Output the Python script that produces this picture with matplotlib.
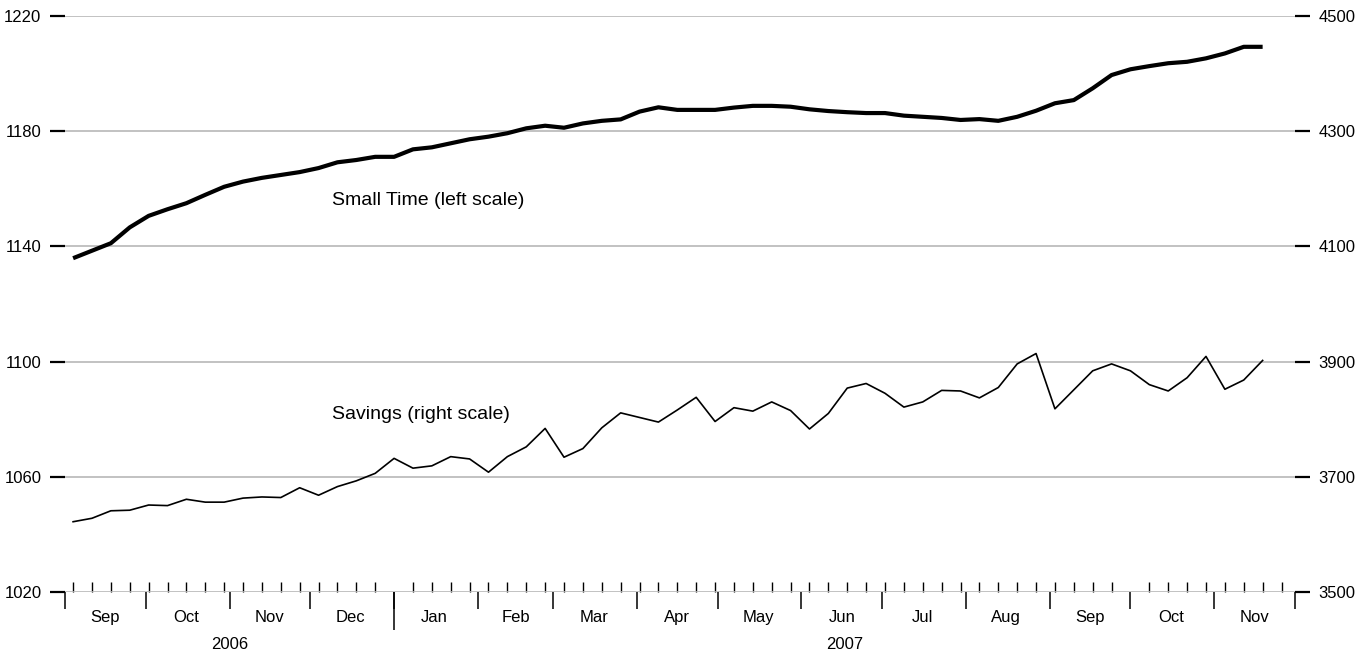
import datetime as dt
import matplotlib
matplotlib.use("Agg")
import matplotlib.pyplot as plt
import matplotlib.dates as mdates

plt.rcParams["font.family"] = ["Liberation Sans", "DejaVu Sans"]

# weekly readings, taken on Mondays from 4 Sep 2006
first_week = dt.date(2006, 9, 4)
weeks = [first_week + dt.timedelta(weeks=i) for i in range(64)]

# left scale
small_time = [1135.9, 1138.5, 1141.1, 1146.6, 1150.6, 1152.9, 1155.0, 1157.9, 1160.7, 1162.5,
              1163.8, 1164.8, 1165.8, 1167.2, 1169.2, 1170.0, 1171.1, 1171.1, 1173.7, 1174.4,
              1175.8, 1177.2, 1178.1, 1179.3, 1181.0, 1181.9, 1181.2, 1182.7, 1183.6, 1184.1,
              1186.8, 1188.3, 1187.4, 1187.4, 1187.4, 1188.2, 1188.8, 1188.8, 1188.5, 1187.6,
              1187.0, 1186.6, 1186.3, 1186.3, 1185.4, 1185.0, 1184.6, 1183.9, 1184.2, 1183.6,
              1185.0, 1187.1, 1189.7, 1190.8, 1194.9, 1199.5, 1201.5, 1202.6, 1203.6, 1204.1,
              1205.3, 1207.0, 1209.3, 1209.3]

# right scale
savings = [3622, 3628, 3641, 3642, 3651, 3650, 3661, 3656, 3656, 3663,
           3665, 3664, 3681, 3668, 3683, 3693, 3706, 3732, 3715, 3719,
           3735, 3731, 3708, 3735, 3752, 3784, 3734, 3749, 3785, 3811,
           3803, 3795, 3816, 3838, 3796, 3820, 3814, 3830, 3815, 3783,
           3810, 3854, 3862, 3845, 3821, 3830, 3850, 3849, 3837, 3855,
           3896, 3914, 3818, 3851, 3884, 3896, 3884, 3860, 3849, 3872,
           3909, 3852, 3868, 3902]

left_ticks = [1020, 1060, 1100, 1140, 1180, 1220]
right_ticks = [3500, 3700, 3900, 4100, 4300, 4500]

month_starts = [dt.date(2006, m, 1) for m in range(9, 13)] + \
               [dt.date(2007, m, 1) for m in range(1, 13)]
month_names = ["Sep", "Oct", "Nov", "Dec", "Jan", "Feb", "Mar", "Apr",
               "May", "Jun", "Jul", "Aug", "Sep", "Oct", "Nov"]
years = ["2006", "2007"]
year_bounds = [dt.date(2006, 9, 1), dt.date(2007, 1, 1), dt.date(2007, 12, 1)]

fig = plt.figure(figsize=(13.65, 6.55), dpi=100)
ax = fig.add_axes([65 / 1365, 63 / 655, 1230 / 1365, 576 / 655])
ax2 = ax.twinx()

ax.plot(weeks, small_time, color="black", lw=3.0, solid_capstyle="butt", zorder=3)
ax2.plot(weeks, savings, color="black", lw=1.2, zorder=3)

ax.set_ylim(1020, 1220)
ax2.set_ylim(3500, 4500)
ax.set_xlim(month_starts[0], month_starts[-1])

ax.set_yticks(left_ticks)
ax2.set_yticks(right_ticks)
ax.grid(axis="y", color="#b8b8b8", lw=1.2)
ax.set_axisbelow(True)

for a in (ax, ax2):
    for s in a.spines.values():
        s.set_visible(False)
    a.tick_params(axis="y", length=11, width=1.6, pad=6, labelsize=12, color="black")

# weekly ticks point up, month ticks point down
ax.xaxis.set_major_locator(mdates.MonthLocator())
ax.xaxis.set_minor_locator(mdates.WeekdayLocator(byweekday=mdates.MO))
ax.xaxis.set_major_formatter(plt.NullFormatter())
ax.tick_params(axis="x", which="major", direction="out", length=12.5, width=1.1)
ax.tick_params(axis="x", which="minor", direction="in", length=7.5, width=1.0)

# longer tick at the turn of the year
year_axis = ax.secondary_xaxis("bottom")
year_axis.set_xticks([mdates.date2num(year_bounds[1])])
year_axis.set_xticklabels([])
year_axis.tick_params(axis="x", direction="out", length=27, width=1.1)
year_axis.spines["bottom"].set_visible(False)

for i, name in enumerate(month_names):
    mid = month_starts[i] + (month_starts[i + 1] - month_starts[i]) / 2
    ax.annotate(name, xy=(mid, 0), xycoords=("data", "axes fraction"),
                xytext=(0, -18.5), textcoords="offset points",
                ha="center", va="center", fontsize=12)

for i, yr in enumerate(years):
    mid = year_bounds[i] + (year_bounds[i + 1] - year_bounds[i]) / 2
    ax.annotate(yr, xy=(mid, 0), xycoords=("data", "axes fraction"),
                xytext=(0, -37.5), textcoords="offset points",
                ha="center", va="center", fontsize=12)

ax.text(dt.date(2006, 12, 9), 1156.1, "Small Time (left scale)", fontsize=14, va="center")
ax.text(dt.date(2006, 12, 9), 1081.5, "Savings (right scale)", fontsize=14, va="center")

fig.savefig("out.png", dpi=100)
